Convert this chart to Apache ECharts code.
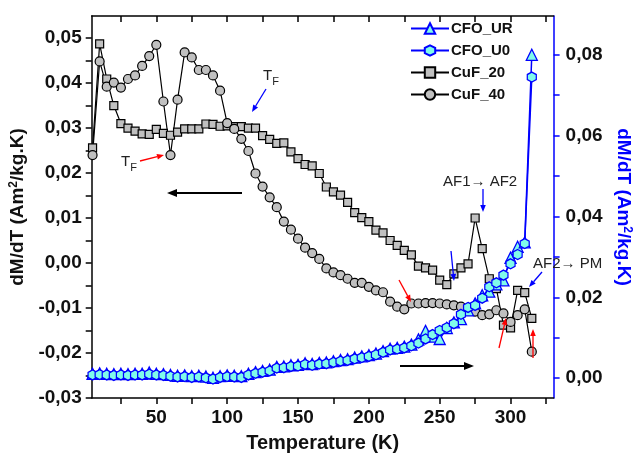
<!DOCTYPE html>
<html>
<head>
<meta charset="utf-8">
<style>
  html, body { margin: 0; padding: 0; background: #fff; }
  #chart { width: 641px; height: 458px; }
</style>
<script src="https://cdn.jsdelivr.net/npm/echarts@6/dist/echarts.min.js"></script>
</head>
<body>
<div id="chart"></div>
<script>
// temperatures (K)
var temps = [5, 10, 15, 20, 25, 30, 35, 40, 45, 50, 55, 60, 65, 70, 75, 80, 85, 90, 95, 100,
  105, 110, 115, 120, 125, 130, 135, 140, 145, 150, 155, 160, 165, 170, 175, 180, 185, 190, 195, 200,
  205, 210, 215, 220, 225, 230, 235, 240, 245, 250, 255, 260, 265, 270, 275, 280, 285, 290, 295, 300,
  305, 310, 315];

// left axis series
var cuf20 = [0.0256, 0.0487, 0.0409, 0.0350, 0.0310, 0.0300, 0.0293, 0.0287, 0.0286, 0.0297,
  0.0288, 0.0284, 0.0291, 0.0298, 0.0298, 0.0298, 0.0309, 0.0308, 0.0304, 0.0305,
  0.0303, 0.0303, 0.0300, 0.0300, 0.0283, 0.0275, 0.0266, 0.0267, 0.0247, 0.0232,
  0.0219, 0.0216, 0.0199, 0.0169, 0.0158, 0.0151, 0.0135, 0.0112, 0.0101, 0.0092,
  0.0073, 0.0067, 0.0050, 0.0039, 0.0028, 0.0018, -0.0007, -0.0011, -0.0016, -0.0038,
  -0.0048, -0.0024, -0.0011, -0.0002, 0.0100, 0.0032, -0.0035, -0.0057, -0.0138, -0.0144,
  -0.0061, -0.0066, -0.0123];
var cuf40 = [0.0240, 0.0448, 0.0392, 0.0401, 0.0390, 0.0409, 0.0417, 0.0438, 0.0460, 0.0485,
  0.0359, 0.0240, 0.0363, 0.0468, 0.0457, 0.0429, 0.0429, 0.0417, 0.0383, 0.0311,
  0.0298, 0.0276, 0.0249, 0.0199, 0.0170, 0.0146, 0.0124, 0.0092, 0.0074, 0.0054,
  0.0034, 0.0022, 0.0009, -0.0012, -0.0021, -0.0027, -0.0035, -0.0044, -0.0044, -0.0053,
  -0.0061, -0.0065, -0.0086, -0.0097, -0.0103, -0.0090, -0.0090, -0.0089, -0.0089, -0.0090,
  -0.0092, -0.0094, -0.0097, -0.0105, -0.0108, -0.0116, -0.0114, -0.0105, -0.0112, -0.0131,
  -0.0116, -0.0103, -0.0197];

// right axis series
var cfoUR = [0.0011, 0.0012, 0.0011, 0.0010, 0.0011, 0.0010, 0.0011, 0.0011, 0.0014, 0.0011,
  0.0010, 0.0008, 0.0006, 0.0007, 0.0005, 0.0006, 0.0004, 0.0001, 0.0005, 0.0007,
  0.0006, 0.0005, 0.0011, 0.0015, 0.0018, 0.0021, 0.0028, 0.0029, 0.0032, 0.0033,
  0.0037, 0.0035, 0.0038, 0.0039, 0.0042, 0.0045, 0.0047, 0.0051, 0.0054, 0.0057,
  0.0061, 0.0067, 0.0073, 0.0075, 0.0078, 0.0083, 0.0096, 0.0117, 0.0103, 0.0097,
  0.0124, 0.0138, 0.0146, 0.0168, 0.0185, 0.0205, 0.0214, 0.0232, 0.0242, 0.0298,
  0.0325, 0.0336, 0.0800];
var cfoU0 = [0.0008, 0.0009, 0.0008, 0.0007, 0.0008, 0.0007, 0.0008, 0.0008, 0.0010, 0.0008,
  0.0007, 0.0005, 0.0003, 0.0004, 0.0002, 0.0003, 0.0001, -0.0002, 0.0002, 0.0004,
  0.0003, 0.0002, 0.0008, 0.0012, 0.0015, 0.0018, 0.0025, 0.0026, 0.0029, 0.0030,
  0.0034, 0.0032, 0.0035, 0.0036, 0.0039, 0.0042, 0.0044, 0.0048, 0.0051, 0.0054,
  0.0058, 0.0064, 0.0070, 0.0072, 0.0075, 0.0080, 0.0087, 0.0097, 0.0108, 0.0118,
  0.0125, 0.0135, 0.0158, 0.0175, 0.0180, 0.0198, 0.0226, 0.0236, 0.0255, 0.0283,
  0.0306, 0.0333, 0.0745];

// ticks and labels
var xTicks = [25, 50, 75, 100, 125, 150, 175, 200, 225, 250, 275, 300, 325];
var xLabels = [50, 100, 150, 200, 250, 300];
var yLeftTicks = [-0.03, -0.025, -0.02, -0.015, -0.01, -0.005, 0, 0.005, 0.01, 0.015, 0.02, 0.025, 0.03, 0.035, 0.04, 0.045, 0.05];
var yLeftLabels = [-0.03, -0.02, -0.01, 0, 0.01, 0.02, 0.03, 0.04, 0.05];
var yRightTicks = [0, 0.01, 0.02, 0.03, 0.04, 0.05, 0.06, 0.07, 0.08];
var yRightLabels = [0, 0.02, 0.04, 0.06, 0.08];

function pairs(ys) {
  return temps.map(function (t, i) { return [t, ys[i]]; });
}
function comma(v) { return v.toFixed(2).replace('.', ','); }

var hexagon = 'path://M0,-10L8.66,-5L8.66,5L0,10L-8.66,5L-8.66,-5Z';
var FONT = 'Liberation Sans, Arial, sans-serif';
var BLUE = '#0000ff';
var CYAN = '#80fbea';
var GRAY = '#c0c0c0';

var chart = echarts.init(document.getElementById('chart'));

function arrow(x1, y1, x2, y2, color, w, head) {
  var a = Math.atan2(y2 - y1, x2 - x1);
  var hw = head * 0.4;
  var bx = x2 - head * Math.cos(a), by = y2 - head * Math.sin(a);
  return [
    { type: 'line', shape: { x1: x1, y1: y1, x2: bx, y2: by }, style: { stroke: color, lineWidth: w }, z: 100 },
    { type: 'polygon', shape: { points: [[x2, y2], [bx + hw * Math.sin(a), by - hw * Math.cos(a)], [bx - hw * Math.sin(a), by + hw * Math.cos(a)]] },
      style: { fill: color }, z: 100 }
  ];
}
function txt(x, y, rich, s) {
  return { type: 'text', x: x, y: y, z: 100,
    style: { text: s, font: '15px ' + FONT, fill: '#222', rich: rich, verticalAlign: 'middle' } };
}
var subRich = { s: { fontSize: 11, fontFamily: FONT, fill: '#222', padding: [12, 0, 0, 0] } };

var graphics = [].concat(
  [txt(121, 162, subRich, 'T{s|F}')],
  arrow(140, 161, 164, 155, '#ff0000', 1.3, 7),
  [txt(263, 76, subRich, 'T{s|F}')],
  arrow(266, 89, 252, 112, BLUE, 1.3, 7),
  arrow(242, 193, 167, 193, '#000', 1.8, 10),
  arrow(400, 366, 474, 366, '#000', 1.8, 10),
  [txt(443, 182, null, 'AF1\u2192 AF2')],
  arrow(483, 189, 483, 212, BLUE, 1.3, 7),
  arrow(451, 251, 454, 281, BLUE, 1.3, 7),
  arrow(399, 280, 411, 302, '#ff0000', 1.3, 7),
  arrow(499, 348, 506, 318, '#ff0000', 1.3, 7),
  arrow(533, 358, 533, 329, '#ff0000', 1.3, 7),
  [txt(533, 264, null, 'AF2\u2192 PM')],
  arrow(542, 272, 529, 287, BLUE, 1.3, 7)
);

chart.setOption({
  animation: false,
  backgroundColor: '#fff',
  textStyle: { fontFamily: FONT },
  grid: { left: 91, right: 78, top: 16, bottom: 58, containLabel: false },
  legend: {
    orient: 'vertical', left: 410, top: 21, itemWidth: 38, itemHeight: 13, itemGap: 7, padding: 0,
    data: ['CFO_UR', 'CFO_U0', 'CuF_20', 'CuF_40'],
    textStyle: { fontFamily: FONT, fontWeight: 'bold', fontSize: 15, color: '#111', padding: [0, 0, 0, -3] }
  },
  xAxis: [{
    type: 'value', min: 4.4, max: 330.4, position: 'bottom',
    name: 'Temperature (K)', nameLocation: 'middle', nameGap: 35,
    nameTextStyle: { fontFamily: FONT, fontWeight: 'bold', fontSize: 20, color: '#111' },
    axisLine: { onZero: false, lineStyle: { color: '#000', width: 1.5 } },
    axisTick: { customValues: xTicks, inside: false, length: 6, lineStyle: { color: '#000', width: 1.5 } },
    axisLabel: { customValues: xLabels, margin: 10, fontFamily: FONT, fontWeight: 'bold', fontSize: 19, color: '#111' },
    splitLine: { show: false }
  }, {
    type: 'value', min: 4.4, max: 330.4, position: 'top',
    axisLine: { onZero: false, lineStyle: { color: '#000', width: 1.5 } },
    axisTick: { customValues: xTicks, inside: true, length: 6, lineStyle: { color: '#000', width: 1.5 } },
    axisLabel: { show: false },
    splitLine: { show: false }
  }],
  yAxis: [{
    type: 'value', min: -0.03, max: 0.0549, position: 'left',
    name: 'dM/dT (Am{sup|2}/kg.K)', nameLocation: 'middle', nameGap: 56,
    nameTextStyle: { fontFamily: FONT, fontWeight: 'bold', fontSize: 19, color: '#111',
      rich: { sup: { fontFamily: FONT, fontWeight: 'bold', fontSize: 12, color: '#111', verticalAlign: 'top', padding: [0, 0, 8, 0] } } },
    axisLine: { show: true, onZero: false, lineStyle: { color: '#000', width: 1.5 } },
    axisTick: { show: true, customValues: yLeftTicks, inside: false, length: 6, lineStyle: { color: '#000', width: 1.5 } },
    axisLabel: { customValues: yLeftLabels, margin: 10, formatter: comma, fontFamily: FONT, fontWeight: 'bold', fontSize: 19, color: '#111' },
    splitLine: { show: false }
  }, {
    type: 'value', min: -0.0049, max: 0.0896, position: 'right',
    name: 'dM/dT (Am{sup|2}/kg.K)', nameLocation: 'middle', nameGap: 51, nameRotate: -90,
    nameTextStyle: { fontFamily: FONT, fontWeight: 'bold', fontSize: 19, color: BLUE,
      rich: { sup: { fontFamily: FONT, fontWeight: 'bold', fontSize: 12, color: BLUE, verticalAlign: 'top', padding: [0, 0, 8, 0] } } },
    axisLine: { show: true, onZero: false, lineStyle: { color: BLUE, width: 1.5 } },
    axisTick: { show: true, customValues: yRightTicks, inside: false, length: 6, lineStyle: { color: BLUE, width: 1.5 } },
    axisLabel: { customValues: yRightLabels, margin: 12, formatter: comma, fontFamily: FONT, fontWeight: 'bold', fontSize: 19, color: '#111' },
    splitLine: { show: false }
  }],
  series: [{
    name: 'CuF_20', type: 'line', xAxisIndex: 0, yAxisIndex: 0, data: pairs(cuf20),
    symbol: 'rect', symbolSize: 8,
    lineStyle: { color: '#000', width: 1.2 },
    itemStyle: { color: GRAY, borderColor: '#000', borderWidth: 1.2 }
  }, {
    name: 'CuF_40', type: 'line', xAxisIndex: 0, yAxisIndex: 0, data: pairs(cuf40),
    symbol: 'circle', symbolSize: 9,
    lineStyle: { color: '#000', width: 1.2 },
    itemStyle: { color: GRAY, borderColor: '#000', borderWidth: 1.2 }
  }, {
    name: 'CFO_UR', type: 'line', xAxisIndex: 0, yAxisIndex: 1, data: pairs(cfoUR),
    symbol: 'triangle', symbolSize: 11,
    lineStyle: { color: BLUE, width: 1.5 },
    itemStyle: { color: CYAN, borderColor: BLUE, borderWidth: 1.3 }
  }, {
    name: 'CFO_U0', type: 'line', xAxisIndex: 0, yAxisIndex: 1, data: pairs(cfoU0),
    symbol: hexagon, symbolSize: [9, 10],
    lineStyle: { color: BLUE, width: 1.5 },
    itemStyle: { color: CYAN, borderColor: BLUE, borderWidth: 1.3 }
  }],
  graphic: graphics
});
</script>
</body>
</html>
